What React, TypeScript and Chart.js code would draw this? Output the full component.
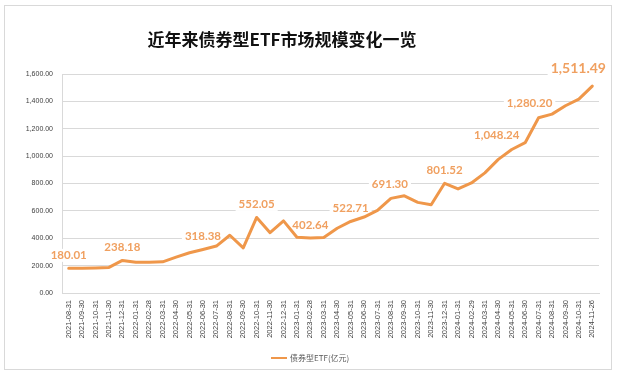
import React, { useEffect, useRef } from "react";
import { Chart, registerables } from "chart.js";

Chart.register(...registerables);

const categories = [
  "2021-08-31", "2021-09-30", "2021-10-31", "2021-11-30", "2021-12-31",
  "2022-01-31", "2022-02-28", "2022-03-31", "2022-04-30", "2022-05-31",
  "2022-06-30", "2022-07-31", "2022-08-31", "2022-09-30", "2022-10-31",
  "2022-11-30", "2022-12-31", "2023-01-31", "2023-02-28", "2023-03-31",
  "2023-04-30", "2023-05-31", "2023-06-30", "2023-07-31", "2023-08-31",
  "2023-09-30", "2023-10-31", "2023-11-30", "2023-12-31", "2024-01-31",
  "2024-02-29", "2024-03-31", "2024-04-30", "2024-05-31", "2024-06-30",
  "2024-07-31", "2024-08-31", "2024-09-30", "2024-10-31", "2024-11-26",
];

const bondEtfScale = [
  180.01, 181, 183, 187, 238.18,
  224, 224, 228, 262, 294,
  318.38, 343, 422, 330, 552.05,
  441, 527, 407, 402.64, 405,
  473, 522.71, 555, 603, 691.3,
  710, 662, 645, 801.52, 760,
  804, 878, 976, 1048.24, 1098,
  1280.2, 1307, 1368, 1417, 1511.49,
];

const labeledIndices = [0, 4, 10, 14, 18, 21, 24, 28, 33, 35, 39];

const titleText = "近年来债券型ETF市场规模变化一览";
const seriesName = "债券型ETF(亿元)";
const yMin = 0;
const yMax = 1600;
const yStep = 200;

const LINE_COLOR = "#EF974A";
const LABEL_COLOR = "#F0A060";

const fmt = (v: number) =>
  v.toLocaleString("en-US", { minimumFractionDigits: 2, maximumFractionDigits: 2 });

export default function App() {
  const ref = useRef<HTMLCanvasElement | null>(null);

  useEffect(() => {
    document.body.style.margin = "0";
    const canvas = ref.current;
    if (!canvas) return;

    const decor = {
      id: "decor",
      beforeDraw(chart: any) {
        const ctx = chart.ctx;
        ctx.save();
        ctx.fillStyle = "#ffffff";
        ctx.fillRect(0, 0, chart.width, chart.height);
        ctx.strokeStyle = "#d9d9d9";
        ctx.lineWidth = 1;
        ctx.strokeRect(4.5, 5.5, 607, 364);
        // title
        ctx.fillStyle = "#111111";
        ctx.font = "bold 17px 'Noto Sans CJK SC'";
        ctx.textAlign = "center";
        ctx.textBaseline = "middle";
        ctx.fillText(titleText, 282, 40);
        // legend
        ctx.strokeStyle = LINE_COLOR;
        ctx.lineWidth = 2;
        ctx.beginPath();
        ctx.moveTo(271, 358);
        ctx.lineTo(287, 358);
        ctx.stroke();
        ctx.fillStyle = "#595959";
        ctx.font = "8px 'Noto Sans CJK SC'";
        ctx.textAlign = "left";
        ctx.fillText(seriesName, 290, 358);
        ctx.restore();
      },
      beforeDatasetsDraw(chart: any) {
        const ctx = chart.ctx;
        const meta = chart.getDatasetMeta(0);
        ctx.save();
        ctx.textAlign = "center";
        ctx.textBaseline = "middle";
        labeledIndices.forEach((i) => {
          const pt = meta.data[i];
          if (!pt) return;
          const last = i === bondEtfScale.length - 1;
          let dx = 0;
          let dy = -13;
          if (i === 33) { dx = -15; dy = -14; }
          if (i === 35) { dx = -9; dy = -14; }
          if (i === 24) { dx = -1; dy = -14; }
          if (last) { dx = -14; dy = -18; }
          ctx.font = last ? "bold 14px Lato" : "bold 11.5px Lato";
          const text = fmt(bondEtfScale[i]);
          const w = ctx.measureText(text).width;
          const cx = pt.x + dx;
          const cy = pt.y + dy;
          const h = last ? 16 : 13;
          ctx.fillStyle = "#ffffff";
          ctx.fillRect(cx - w / 2 - 3, cy - h / 2, w + 6, h);
          ctx.fillStyle = LABEL_COLOR;
          ctx.fillText(text, cx, cy);
        });
        ctx.restore();
      },
    };

    const chart = new Chart(canvas, {
      type: "line",
      data: {
        labels: categories,
        datasets: [
          {
            label: seriesName,
            data: bondEtfScale,
            borderColor: LINE_COLOR,
            backgroundColor: LINE_COLOR,
            borderWidth: 3,
            pointRadius: 0,
            tension: 0,
            borderJoinStyle: "round",
            borderCapStyle: "round",
          },
        ],
      },
      options: {
        responsive: false,
        animation: false,
        layout: { padding: { left: 0, right: 20, top: 74, bottom: 0 } },
        plugins: {
          legend: { display: false },
          title: { display: false },
          tooltip: { enabled: false },
        },
        scales: {
          x: {
            offset: true,
            grid: { display: false, drawTicks: false },
            border: { display: true, color: "#d9d9d9" },
            ticks: {
              autoSkip: false,
              maxRotation: 90,
              minRotation: 90,
              padding: 7,
              color: "#404040",
              font: { family: "'Liberation Sans'", size: 7.5 },
            },
            afterFit(scale: any) {
              scale.height = 83;
            },
          },
          y: {
            min: yMin,
            max: yMax,
            grid: { color: "#d9d9d9", drawTicks: false },
            border: { display: true, color: "#d9d9d9" },
            ticks: {
              stepSize: yStep,
              padding: 9,
              color: "#404040",
              font: { family: "'Liberation Sans'", size: 7 },
              callback: (v: any) => fmt(Number(v)),
            },
            afterFit(scale: any) {
              scale.width = 62;
            },
          },
        },
      },
      plugins: [decor],
    });

    return () => chart.destroy();
  }, []);

  return (
    <div style={{ width: 619, height: 376, position: "relative" }}>
      <canvas ref={ref} width={619} height={376} />
    </div>
  );
}
